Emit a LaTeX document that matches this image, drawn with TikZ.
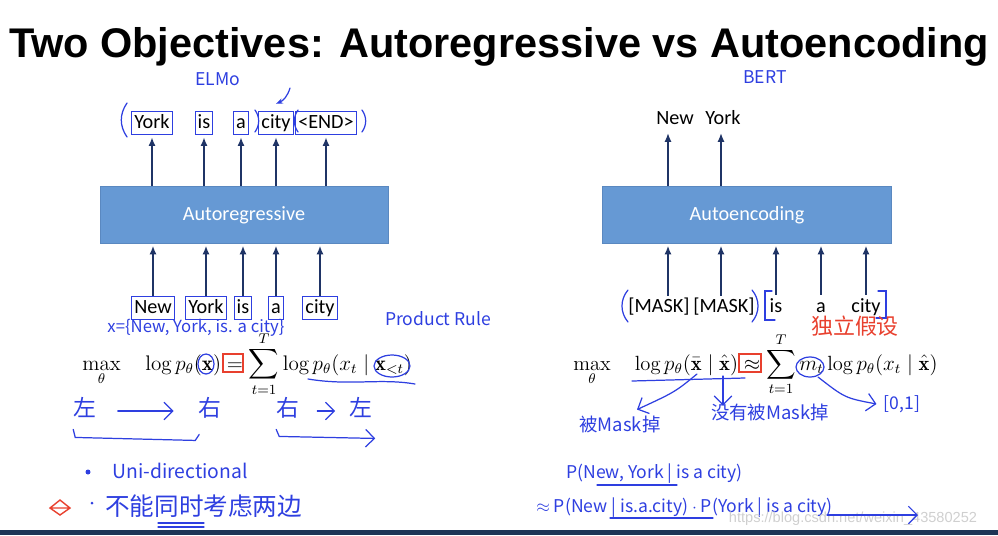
\documentclass[tikz,border=0pt]{standalone}
\usepackage{amsmath,amssymb}
\usepackage{fontspec}
\usepackage{tikz}
\usetikzlibrary{arrows.meta,positioning,calc}
\newfontfamily\wordfont{Carlito}
\newfontfamily\titlefont{Liberation Sans}
\newfontfamily\hand{Noto Sans CJK SC}
\definecolor{boxblue}{HTML}{6699D4}
\definecolor{boxedge}{HTML}{5A88C0}
\definecolor{arrownavy}{HTML}{1F3466}
\definecolor{ink}{HTML}{2E3FE0}
\definecolor{redink}{HTML}{E8402E}
\definecolor{stripnavy}{HTML}{1E3556}
\definecolor{wmark}{HTML}{CFCFCF}

\begin{document}
\begin{tikzpicture}[x=0.02cm, y=-0.02cm, every node/.style={inner sep=1.5pt},
  word/.style={font=\wordfont\fontsize{11.5}{13}\selectfont, text height=8pt, text depth=2.4pt, anchor=base},
  penbox/.style={draw=ink, line width=0.6pt},
  modelbox/.style={fill=boxblue, draw=boxedge, text=white, minimum height=1.14cm, font=\wordfont\fontsize{11.5}{13}\selectfont},
  tok/.style={-{Latex[length=5pt,width=4pt]}, line width=1.1pt, arrownavy, shorten >=1pt},
  note/.style={text=ink, font=\hand\fontsize{10}{12}\selectfont, inner sep=0pt, text height=0.8em, text depth=0.12em},
  pen/.style={ink, line width=0.7pt, line cap=round},
  redpen/.style={redink, line width=0.8pt, line cap=round}]
\useasboundingbox (0,0) rectangle (998,535);
\fill[stripnavy] (0,530) rectangle (998,535);

% title
\node[anchor=base, font=\titlefont\bfseries\fontsize{23.6}{28}\selectfont] (title) at (499,57) {Two Objectives: Autoregressive vs Autoencoding};

% left: autoregressive
\node[modelbox, minimum width=5.76cm] (ar) at (244,215) {Autoregressive};
\node[word, penbox] (ly1) at (152,128) {York};
\node[word, penbox] (ly2) at (204,128) {is};
\node[word, penbox] (ly3) at (241,128) {a};
\node[word, penbox] (ly4) at (276,128) {city};
\node[word, penbox] (ly5) at (326,128) {<END>};
\node[word, penbox] (lx1) at (153,313) {New};
\node[word, penbox] (lx2) at (206,313) {York};
\node[word, penbox] (lx3) at (243,313) {is};
\node[word, penbox] (lx4) at (276,313) {a};
\node[word, penbox] (lx5) at (320,313) {city};
\foreach \i in {1,...,5} {
  \draw[tok] (ar.north -| ly\i) -- (ly\i.south);
  \draw[tok] (lx\i.north) -- (lx\i.north |- ar.south);
}

% right: autoencoding
\node[modelbox, minimum width=5.78cm] (ae) at (747,215) {Autoencoding};
\node[word] (ry1) at (675,124) {New};
\node[word] (ry2) at (723,124) {York};
\node[word] (rx1) at (659,312) {[MASK]};
\node[word] (rx2) at (724,312) {[MASK]};
\node[word] (rx3) at (776,312) {is};
\node[word] (rx4) at (821,312) {a};
\node[word] (rx5) at (866,312) {city};
\coordinate (ra1) at (668,296);
\coordinate (ra2) at (721,296);
\draw[tok] (ae.north -| ra1) -- (ry1.south -| ra1);
\draw[tok] (ae.north -| ra2) -- (ry2.south -| ra2);
\draw[tok] (ra1) -- (ra1 |- ae.south);
\draw[tok] (ra2) -- (ra2 |- ae.south);
\foreach \i in {3,4,5} {
  \draw[tok] (rx\i.north) -- (rx\i.north |- ae.south);
}

% objectives
\node[anchor=base west, font=\fontsize{12}{14}\selectfont, inner sep=0pt] (objl) at (82,370)
  {$\displaystyle \max_{\theta} \quad \log p_\theta(\mathbf{x}) = \sum_{t=1}^{T} \log p_\theta(x_t \mid \mathbf{x}_{<t})$};
\node[anchor=base west, font=\fontsize{11.7}{14}\selectfont, inner sep=0pt] (objr) at (573,370)
  {$\displaystyle \max_{\theta} \quad \log p_\theta(\bar{\mathbf{x}} \mid \hat{\mathbf{x}}) \approx \sum_{t=1}^{T} m_t \log p_\theta(x_t \mid \hat{\mathbf{x}})$};

% hand notes, left
\node[note] (elmo) at (218,80) {ELMo};
\coordinate (elmoarr) at (290,88);
\draw[pen, -{Stealth[length=4pt]}] (elmoarr) to[bend left=25] ($(ly4.north)+(0,-7)$);
\draw[pen] (127,103) to[bend right=35] (127,137);
\draw[pen] (255,110) to[bend left=35] (255,132);
\draw[pen] (298,110) to[bend right=35] (298,132);
\draw[pen] (362,110) to[bend left=35] (362,132);
\node[note, font=\hand\fontsize{9.5}{11}\selectfont] (xset) at (196,327) {x=\{New, York, is. a city\}};
\node[note, font=\hand\fontsize{10}{11}\selectfont] (prod) at (438,320) {Product Rule};
\draw[pen] (206,364) ellipse (8 and 10);
\draw[redpen] (223,354) rectangle (243,372);
\draw[pen] (392,366) ellipse (18 and 11);
\draw[pen] (308,379) .. controls (350,386) and (380,378) .. (415,384);
\node[note, font=\hand\fontsize{13}{15}\selectfont] (l1) at (85,411) {左};
\node[note, font=\hand\fontsize{13}{15}\selectfont] (r1) at (210,411) {右};
\node[note, font=\hand\fontsize{13}{15}\selectfont] (r2) at (288,411) {右};
\node[note, font=\hand\fontsize{13}{15}\selectfont] (l2) at (361,411) {左};
\draw[pen, -{Straight Barb[length=5pt]}] ([xshift=12]l1.east) -- ([xshift=-14]r1.west);
\draw[pen, -{Straight Barb[length=5pt]}] ([xshift=10]r2.east) -- ([xshift=-8]l2.west);
\draw[pen] (l1.south west) ++(0,10) -- ++(2,8) -- ++(120,3) -- ++(4,-6);
\draw[pen, -{Straight Barb[length=5pt]}] (r2.south west) ++(0,10) -- ++(3,7) -- ++(96,2);
\fill[ink] (88,472) circle (2.5);
\node[note, anchor=west, font=\hand\fontsize{11}{13}\selectfont] (uni) at (112,473) {Uni-directional};
\draw[redpen] (50,508) -- (60,500) -- (70,508) -- (60,515) -- cycle (52,508) -- (68,508);
\fill[ink] (92,503) circle (1.5);
\node[note, anchor=west, font=\hand\fontsize{14}{16}\selectfont] (both) at (105,510) {不能同时考虑两边};
\draw[pen] (158,523) -- (204,523);
\draw[pen] (158,527) -- (204,527);

% hand notes, right
\node[note] (bert) at (765,78) {BERT};
\draw[pen] (628,290) to[bend right=40] (628,322);
\draw[pen] (752,290) to[bend left=40] (752,322);
\draw[pen] (772,291) -- (765,291) -- (765,320) -- (775,320);
\draw[pen] (878,291) -- (886,291) -- (886,318) -- (876,318);
\node[note, text=redink, font=\hand\fontsize{12.5}{14}\selectfont] (indep) at (855,329) {独立假设};
\draw[redpen] (739,354) rectangle (761,372);
\draw[pen] (810,367) ellipse (14 and 10);
\draw[pen] (632,381) -- (745,378);
\node[note, font=\hand\fontsize{10.5}{12}\selectfont] (masked) at (620,426) {被Mask掉};
\node[note, font=\hand\fontsize{10.5}{12}\selectfont] (kept) at (770,414) {没有被Mask掉};
\node[note] (range) at (902,404) {[0,1]};
\coordinate (xbar) at (697,374);
\coordinate (xhat) at (723,376);
\coordinate (mt) at (818,377);
\draw[pen, -{Straight Barb[length=5pt]}] (xbar) .. controls (675,392) .. ($(masked.north)+(17,-8)$);
\draw[pen, -{Straight Barb[length=5pt]}] (xhat) -- (kept.north -| xhat);
\draw[pen, -{Straight Barb[length=5pt]}] (mt) .. controls (845,398) .. ([xshift=-4]range.west);
\node[note, anchor=west] (pjoint) at (566,473) {P(New, York | is a city)};
\draw[pen] (597,485) -- (677,485);
\node[note, anchor=west] (pfact) at (536,507) {$\approx$ P(New | is.a.city) $\cdot$ P(York | is a city)};
\draw[pen] (610,518) -- (713,518);
\node[anchor=base, text=wmark, font=\titlefont\fontsize{8.3}{10}\selectfont] (wm) at (853,522) {https://blog.csdn.net/weixin\_43580252};
\draw[pen, -{Straight Barb[length=5pt]}] (827,515) -- (918,515);
\end{tikzpicture}
\end{document}
